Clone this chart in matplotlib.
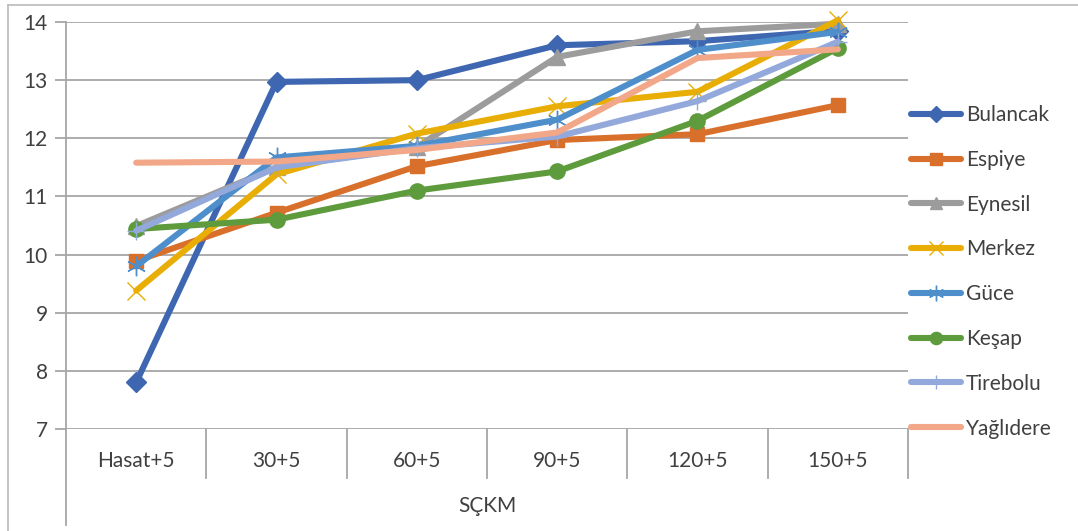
import matplotlib
matplotlib.use('Agg')
import matplotlib.pyplot as plt
from matplotlib.lines import Line2D
from matplotlib.transforms import blended_transform_factory

plt.rcParams['font.family'] = ['Lato', 'DejaVu Sans']

categories = ['Hasat+5', '30+5', '60+5', '90+5', '120+5', '150+5']

bulancak = [7.80, 12.97, 13.00, 13.60, 13.67, 13.85]
espiye = [9.89, 10.72, 11.52, 11.97, 12.07, 12.57]
eynesil = [10.49, 11.50, 11.85, 13.40, 13.84, 13.97]
merkez = [9.38, 11.38, 12.08, 12.55, 12.80, 14.03]
guce = [9.80, 11.67, 11.87, 12.32, 13.52, 13.83]
kesap = [10.44, 10.60, 11.10, 11.43, 12.30, 13.55]
tirebolu = [10.41, 11.50, 11.83, 12.03, 12.64, 13.66]
yaglidere = [11.58, 11.60, 11.80, 12.10, 13.38, 13.53]

series = [
    ('Bulancak', bulancak, '#3E66B1', 'D', 10),
    ('Espiye', espiye, '#D8702C', 's', 10),
    ('Eynesil', eynesil, '#9C9C9C', '^', 11),
    ('Merkez', merkez, '#E8AE05', 'x', 13),
    ('Güce', guce, '#4D8ECB', (6, 2, 0), 14),
    ('Keşap', kesap, '#5E9B3C', 'o', 11),
    ('Tirebolu', tirebolu, '#93A9DB', '+', 13),
    ('Yağlıdere', yaglidere, '#F2A888', None, 0),
]

text_col = '#404040'
grid_col = '#A6A6A6'
fs = 15

fig = plt.figure(figsize=(10.78, 5.31), dpi=100)
ax = fig.add_axes([66 / 1078, 1 - 429 / 531, (908 - 66) / 1078, (429 - 22) / 531])

x = list(range(len(categories)))
for name, vals, col, mk, ms in series:
    ax.plot(x, vals, color=col, lw=4.4, marker=mk, markersize=ms,
            markeredgewidth=1.0, markeredgecolor=col, markerfacecolor=col,
            label=name, clip_on=False, solid_capstyle='round',
            solid_joinstyle='round')

ax.set_xlim(-0.5, len(categories) - 0.5)
ax.set_ylim(7, 14)
ax.set_yticks(range(7, 15))
ax.set_xticks([])
ax.yaxis.grid(True, color=grid_col, lw=1.3)
ax.set_axisbelow(True)
for s in ['top', 'right', 'bottom']:
    ax.spines[s].set_visible(False)
ax.spines['left'].set_color(grid_col)
ax.spines['left'].set_linewidth(1.3)
ax.spines['left'].set_bounds(7, 14)
ax.tick_params(axis='y', length=8, width=1.3, color=grid_col,
               labelsize=fs, labelcolor=text_col, pad=5)

# category table below the plot
tr = blended_transform_factory(ax.transData, ax.transAxes)
for k in range(len(categories) + 1):
    bot = -0.236 if k == 0 else -0.12
    ax.plot([k - 0.5, k - 0.5], [0, bot], color=grid_col, lw=1.3,
            transform=tr, clip_on=False)
for i, c in enumerate(categories):
    ax.text(i, -0.079, c, transform=tr, ha='center', va='center',
            fontsize=fs, color=text_col)
ax.text(0.5, -0.19, 'SÇKM', transform=ax.transAxes, ha='center',
        va='center', fontsize=fs, color=text_col)

# chart border
fig.add_artist(Line2D([8 / 1078, 8 / 1078], [0, 1 - 5 / 531],
                      color='#BFBFBF', lw=1.3))
fig.add_artist(Line2D([8 / 1078, 1], [1 - 5 / 531, 1 - 5 / 531],
                      color='#BFBFBF', lw=1.3))

leg = ax.legend(loc='upper left', bbox_to_anchor=(911 / 1078, 1 - 105 / 531),
                bbox_transform=fig.transFigure, frameon=False,
                fontsize=fs, handlelength=2.4, handletextpad=0.25,
                labelspacing=1.19, markerscale=0.8, borderaxespad=0,
                borderpad=0)
for t in leg.get_texts():
    t.set_color(text_col)

fig.savefig('out.png', dpi=100)
